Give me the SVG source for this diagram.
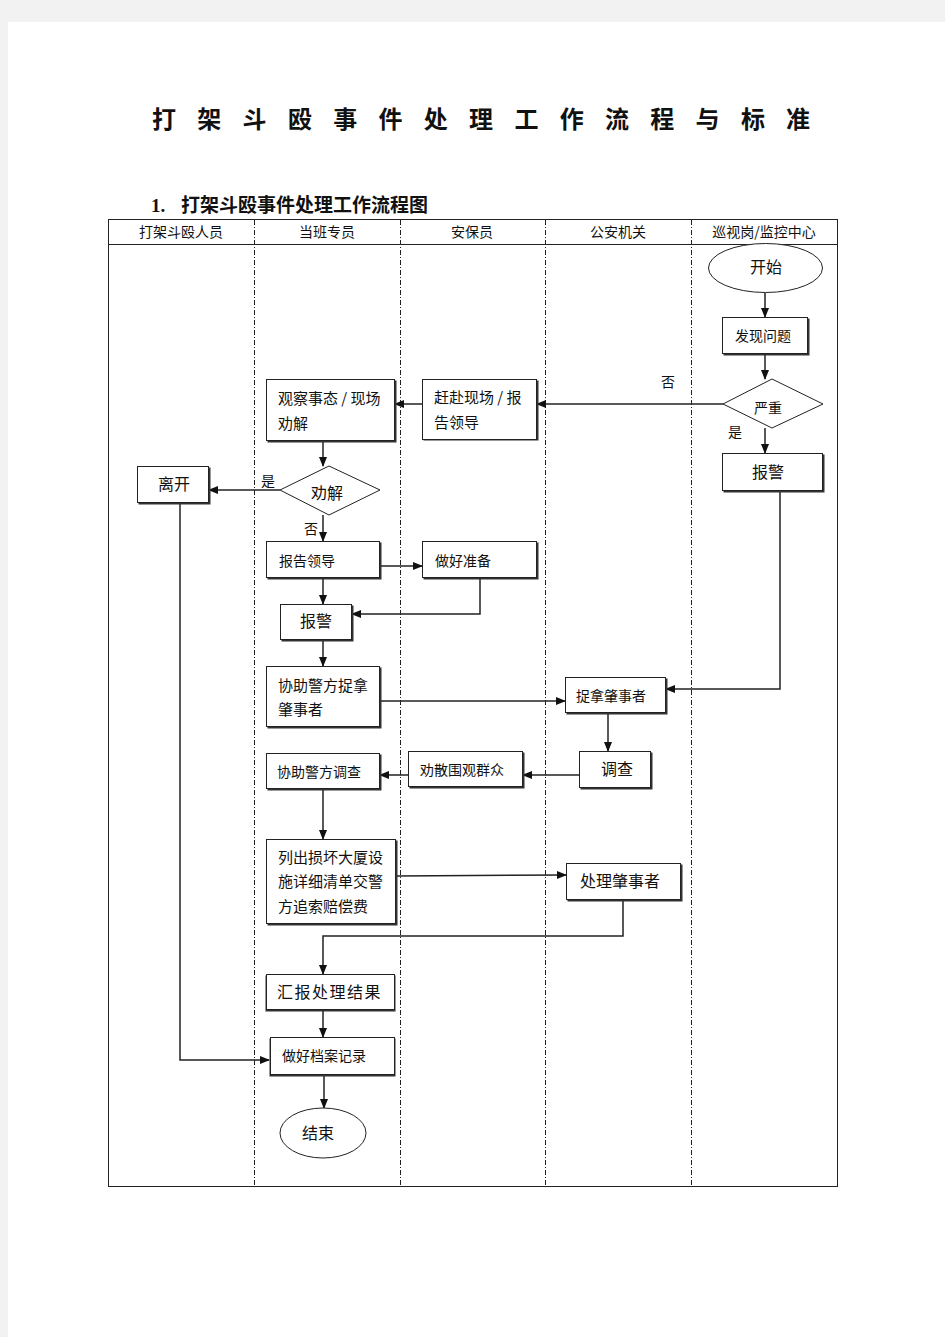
<svg xmlns="http://www.w3.org/2000/svg" width="945" height="1337" viewBox="0 0 945 1337">
<style>
.bg{fill:#f2f2f2}
.page{fill:#fff}
.frame{fill:none;stroke:#222;stroke-width:1}
.lane{stroke:#222;stroke-width:1;stroke-dasharray:5 2 1 2}
.box{fill:#fff;stroke:#222;stroke-width:1}
.sh{fill:#333}
.t{font-family:"Noto Sans CJK SC","Liberation Sans",sans-serif;fill:#111}
.s14{font-size:14px}
.s15{font-size:15px}
.s16{font-size:16px}
.hd{font-size:14px;text-anchor:middle}
.c{text-anchor:middle}
.con{fill:none;stroke:#222;stroke-width:1.5}
.title{font-family:"Liberation Serif","Noto Sans CJK SC",serif;fill:#111}
</style>
<defs>
<marker id="ah" markerUnits="userSpaceOnUse" markerWidth="10" markerHeight="10" viewBox="0 0 10 10" refX="9" refY="5" orient="auto">
<path d="M0,1 L10,5 L0,9 Z" fill="#111"/>
</marker>
</defs>
<rect class="bg" x="0" y="0" width="945" height="1337"/>
<rect class="page" x="8" y="22" width="937" height="1315"/>

<text class="title" font-size="24" font-weight="bold" y="128" text-anchor="middle" x="164 209.3 254.6 299.9 345.2 390.5 435.8 481.1 526.4 571.7 617 662.3 707.6 752.9 798">打架斗殴事件处理工作流程与标准</text>
<text class="title" font-size="19" font-weight="bold" x="151" y="212">1.</text>
<text class="title" font-size="19" font-weight="bold" x="181" y="212">打架斗殴事件处理工作流程图</text>

<g id="table">
<rect class="frame" x="108.5" y="219.5" width="729" height="967"/>
<line class="frame" x1="108" y1="244.5" x2="838" y2="244.5"/>
<line class="lane" x1="254.5" y1="220" x2="254.5" y2="1186"/>
<line class="lane" x1="400.5" y1="220" x2="400.5" y2="1186"/>
<line class="lane" x1="545.5" y1="220" x2="545.5" y2="1186"/>
<line class="lane" x1="691.5" y1="220" x2="691.5" y2="1186"/>
<text class="t hd" x="181" y="237">打架斗殴人员</text>
<text class="t hd" x="327" y="237">当班专员</text>
<text class="t hd" x="472" y="237">安保员</text>
<text class="t hd" x="618" y="237">公安机关</text>
<text class="t hd" x="764" y="237">巡视岗/监控中心</text>
</g>

<g id="connectors">
<line class="con" x1="765" y1="293" x2="765" y2="317" marker-end="url(#ah)"/>
<line class="con" x1="765" y1="354" x2="765" y2="379" marker-end="url(#ah)"/>
<line class="con" x1="765" y1="428" x2="765" y2="453" marker-end="url(#ah)"/>
<line class="con" x1="723" y1="404" x2="537" y2="404" marker-end="url(#ah)"/>
<polyline class="con" points="780,491 780,689 666,689" marker-end="url(#ah)"/>
<line class="con" x1="422" y1="404" x2="395" y2="404" marker-end="url(#ah)"/>
<line class="con" x1="323" y1="441" x2="323" y2="466" marker-end="url(#ah)"/>
<line class="con" x1="280" y1="490" x2="209" y2="490" marker-end="url(#ah)"/>
<polyline class="con" points="180,503 180,1060 269,1060" marker-end="url(#ah)"/>
<line class="con" x1="323" y1="515" x2="323" y2="541" marker-end="url(#ah)"/>
<line class="con" x1="380" y1="566" x2="422" y2="566" marker-end="url(#ah)"/>
<polyline class="con" points="480,578 480,614 352,614" marker-end="url(#ah)"/>
<line class="con" x1="323" y1="578" x2="323" y2="604" marker-end="url(#ah)"/>
<line class="con" x1="323" y1="640" x2="323" y2="666" marker-end="url(#ah)"/>
<line class="con" x1="380" y1="701" x2="565" y2="701" marker-end="url(#ah)"/>
<line class="con" x1="608" y1="713" x2="608" y2="751" marker-end="url(#ah)"/>
<line class="con" x1="579" y1="775" x2="523" y2="775" marker-end="url(#ah)"/>
<line class="con" x1="408" y1="775" x2="380" y2="775" marker-end="url(#ah)"/>
<line class="con" x1="323" y1="789" x2="323" y2="839" marker-end="url(#ah)"/>
<line class="con" x1="396" y1="876" x2="566" y2="875" marker-end="url(#ah)"/>
<polyline class="con" points="623,900 623,936 323,936 323,974" marker-end="url(#ah)"/>
<line class="con" x1="323" y1="1010" x2="323" y2="1037" marker-end="url(#ah)"/>
<line class="con" x1="324" y1="1075" x2="324" y2="1108" marker-end="url(#ah)"/>
<text class="t s14" x="661" y="387">否</text>
<text class="t s14" x="728" y="437">是</text>
<text class="t s14" x="261" y="486">是</text>
<text class="t s14" x="304" y="534">否</text>
</g>

<g id="start">
<ellipse class="box" cx="765.5" cy="268" rx="57" ry="24.5"/>
<text class="t s16 c" x="766" y="273">开始</text>
</g>
<g id="discover">
<rect class="sh" x="723.5" y="318.5" width="86" height="37"/>
<rect class="box" x="722.5" y="317.5" width="85" height="36"/>
<text class="t s14 c" x="763" y="341">发现问题</text>
</g>
<g id="serious">
<polygon class="box" points="723,404 772,379 823,404 772,428"/>
<text class="t s14 c" x="768" y="413">严重</text>
</g>
<g id="alarm1">
<rect class="sh" x="723.5" y="454.5" width="101" height="38"/>
<rect class="box" x="722.5" y="453.5" width="100" height="37"/>
<text class="t s16 c" x="768" y="478">报警</text>
</g>
<g id="rush">
<rect class="sh" x="423.5" y="380.5" width="115" height="60"/>
<rect class="box" x="422.5" y="379.5" width="114" height="60"/>
<text class="t s15" x="434" y="403">赶赴现场 / 报</text>
<text class="t s15" x="434" y="428">告领导</text>
</g>
<g id="observe">
<rect class="sh" x="267.5" y="380.5" width="129" height="62"/>
<rect class="box" x="266.5" y="379.5" width="128" height="61"/>
<text class="t s15" x="278" y="404">观察事态 / 现场</text>
<text class="t s15" x="278" y="429">劝解</text>
</g>
<g id="persuade">
<polygon class="box" points="280,490 329,466 380,490 329,515"/>
<text class="t s16 c" x="327" y="499">劝解</text>
</g>
<g id="leave">
<rect class="sh" x="138.5" y="467.5" width="72" height="37"/>
<rect class="box" x="137.5" y="466.5" width="71" height="36"/>
<text class="t s16 c" x="174" y="490">离开</text>
</g>
<g id="report">
<rect class="sh" x="267.5" y="542.5" width="114" height="37"/>
<rect class="box" x="266.5" y="541.5" width="113" height="36"/>
<text class="t s14" x="279" y="566">报告领导</text>
</g>
<g id="prepare">
<rect class="sh" x="423.5" y="542.5" width="115" height="37"/>
<rect class="box" x="422.5" y="541.5" width="114" height="36"/>
<text class="t s14" x="435" y="566">做好准备</text>
</g>
<g id="alarm2">
<rect class="sh" x="281.5" y="605.5" width="72" height="36"/>
<rect class="box" x="280.5" y="604.5" width="71" height="35"/>
<text class="t s16 c" x="316" y="627">报警</text>
</g>
<g id="assist-arrest">
<rect class="sh" x="267.5" y="667.5" width="114" height="61"/>
<rect class="box" x="266.5" y="666.5" width="113" height="60"/>
<text class="t s15" x="278" y="691">协助警方捉拿</text>
<text class="t s15" x="278" y="715">肇事者</text>
</g>
<g id="arrest">
<rect class="sh" x="566.5" y="678.5" width="101" height="36"/>
<rect class="box" x="565.5" y="677.5" width="100" height="35"/>
<text class="t s14 c" x="611" y="701">捉拿肇事者</text>
</g>
<g id="investigate">
<rect class="sh" x="580.5" y="752.5" width="72" height="37"/>
<rect class="box" x="579.5" y="751.5" width="71" height="36"/>
<text class="t s16 c" x="617" y="775">调查</text>
</g>
<g id="disperse">
<rect class="sh" x="409.5" y="752.5" width="115" height="36"/>
<rect class="box" x="408.5" y="751.5" width="114" height="35"/>
<text class="t s14" x="420" y="775">劝散围观群众</text>
</g>
<g id="assist-investigate">
<rect class="sh" x="267.5" y="754.5" width="114" height="36"/>
<rect class="box" x="266.5" y="753.5" width="113" height="35"/>
<text class="t s14" x="277" y="777">协助警方调查</text>
</g>
<g id="list">
<rect class="sh" x="267.5" y="840.5" width="130" height="85"/>
<rect class="box" x="266.5" y="839.5" width="129" height="84"/>
<text class="t s15" x="278" y="863">列出损坏大厦设</text>
<text class="t s15" x="278" y="887">施详细清单交警</text>
<text class="t s15" x="278" y="912">方追索赔偿费</text>
</g>
<g id="handle">
<rect class="sh" x="567.5" y="864.5" width="115" height="37"/>
<rect class="box" x="566.5" y="863.5" width="114" height="36"/>
<text class="t s16 c" x="620" y="887">处理肇事者</text>
</g>
<g id="summary">
<rect class="sh" x="265.5" y="975.5" width="130" height="36"/>
<rect class="box" x="266.5" y="974.5" width="128" height="35"/>
<text class="t s16" x="277" y="998" letter-spacing="1.5">汇报处理结果</text>
</g>
<g id="archive">
<rect class="sh" x="269.5" y="1038.5" width="126" height="38"/>
<rect class="box" x="270.5" y="1037.5" width="124" height="37"/>
<text class="t s14" x="282" y="1061">做好档案记录</text>
</g>
<g id="end">
<ellipse class="box" cx="323" cy="1133" rx="43" ry="25"/>
<text class="t s16 c" x="318" y="1139">结束</text>
</g>
</svg>
